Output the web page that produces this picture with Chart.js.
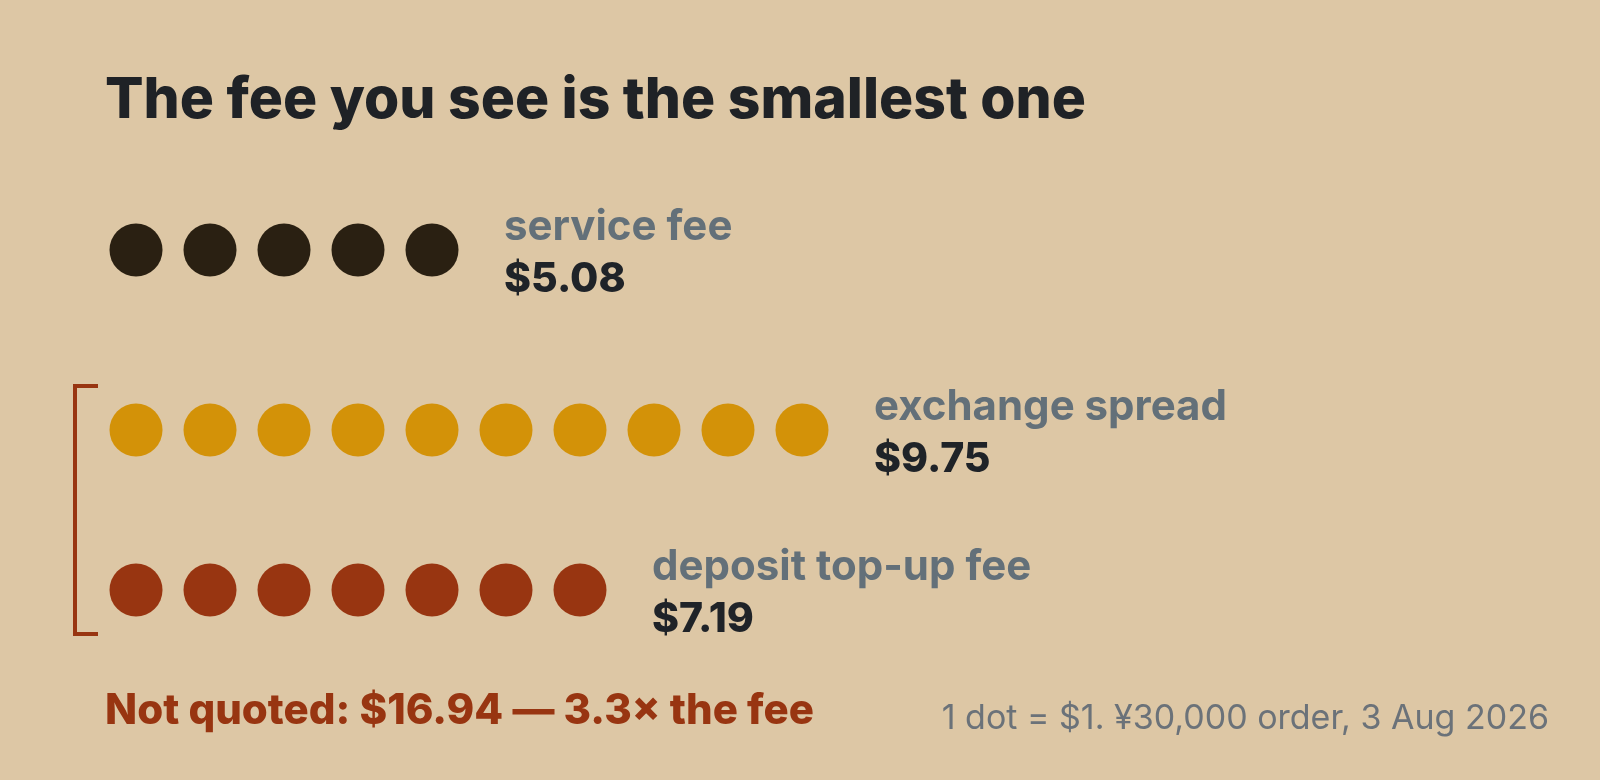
<!DOCTYPE html>
<html>
<head>
<meta charset="utf-8">
<script src="https://cdn.jsdelivr.net/npm/chart.js@4.4.1/dist/chart.umd.min.js"></script>
<style>
  html, body { margin: 0; padding: 0; background: #ddc7a5; }
  canvas { display: block; }
</style>
</head>
<body>
<canvas id="feeChart" width="1600" height="780"></canvas>
<script>
// ======================
// DATA
// ======================
const categories = ["service fee", "exchange spread", "deposit top-up fee"];
const feeValues = [5.08, 9.75, 7.19];
const dotColors = ["#2a2012", "#d39208", "#983511"];
const unitPerDot = 1;

const title = "The fee you see is the smallest one";
const hiddenNote = "Not quoted: $16.94 \u2014 3.3\u00d7 the fee";
const sourceNote = "1 dot = $1. \u00a530,000 order, 3 Aug 2026";

// rows in chart units (first row sits apart from the bracketed pair)
const rowY = [0, 1.125, 2.125];

// ======================
// BUILD DATASETS
// ======================
const datasets = categories.map((name, i) => {
    const n = Math.round(feeValues[i] / unitPerDot);
    const pts = [];
    for (let k = 1; k <= n; k++) pts.push({ x: k, y: rowY[i] });
    return {
        label: name,
        data: pts,
        backgroundColor: dotColors[i],
        borderWidth: 0,
        pointRadius: 26.5,
        pointHoverRadius: 26.5,
        showLine: false
    };
});

// ======================
// TEXT + BRACKET PLUGIN
// ======================
const annotate = {
    id: "annotate",
    afterDatasetsDraw(chart) {
        const ctx = chart.ctx;
        const xs = chart.scales.x;
        const ys = chart.scales.y;

        ctx.save();
        ctx.textBaseline = "alphabetic";
        ctx.textAlign = "left";

        // title
        ctx.fillStyle = "#1f2226";
        ctx.font = "800 57px Inter";
        ctx.fillText(title, 105, 118);

        // row labels
        categories.forEach((name, i) => {
            const n = Math.round(feeValues[i] / unitPerDot);
            const x = xs.getPixelForValue(n) + 72;
            const y = ys.getPixelForValue(rowY[i]);

            ctx.fillStyle = "#637079";
            ctx.font = "700 42px Inter";
            ctx.fillText(name, x, y - 10);

            ctx.fillStyle = "#1f2328";
            ctx.font = "800 41px Inter";
            ctx.fillText("$" + feeValues[i].toFixed(2), x, y + 42);
        });

        // bracket around the two hidden fees
        const top = ys.getPixelForValue(rowY[1]) - 44;
        const bot = ys.getPixelForValue(rowY[2]) + 44;
        ctx.strokeStyle = "#983511";
        ctx.lineWidth = 4;
        ctx.beginPath();
        ctx.moveTo(98, top);
        ctx.lineTo(75, top);
        ctx.lineTo(75, bot);
        ctx.lineTo(98, bot);
        ctx.stroke();

        // footer
        ctx.fillStyle = "#983511";
        ctx.font = "800 42px Inter";
        ctx.fillText(hiddenNote, 105, 724);

        ctx.fillStyle = "#6b7279";
        ctx.font = "400 34px Inter";
        ctx.textAlign = "right";
        ctx.fillText(sourceNote, 1549, 729);

        ctx.restore();
    }
};

// ======================
// CHART
// ======================
new Chart(document.getElementById("feeChart"), {
    type: "scatter",
    data: { datasets: datasets },
    options: {
        responsive: false,
        animation: false,
        layout: { padding: 0, autoPadding: false },
        plugins: {
            legend: { display: false },
            tooltip: { enabled: false }
        },
        scales: {
            x: { display: false, min: -0.838, max: 20.784 },
            y: { display: false, reverse: true, min: -1.5625, max: 3.3125 }
        }
    },
    plugins: [annotate]
});
</script>
</body>
</html>
